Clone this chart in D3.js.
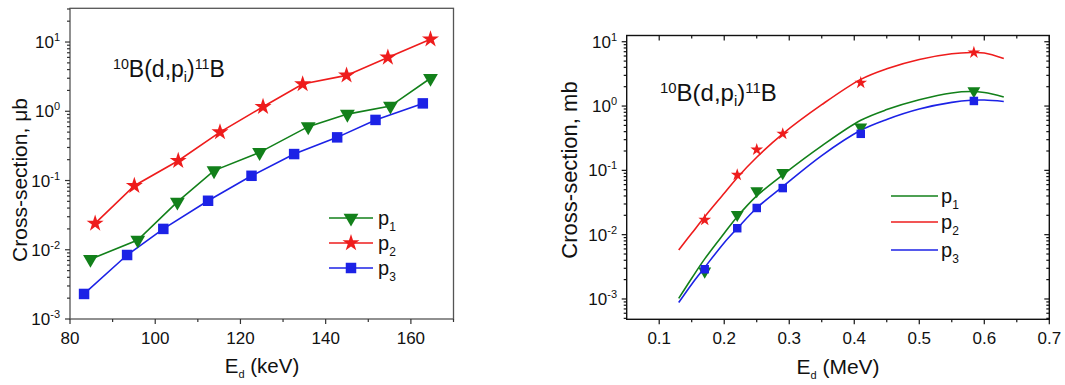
<!DOCTYPE html>
<html>
<head>
<meta charset="utf-8">
<script src="https://cdnjs.cloudflare.com/ajax/libs/d3/7.8.5/d3.min.js"></script>
<style>
  body { margin: 0; background: #fff; }
  text { font-family: "Liberation Sans", Arial, sans-serif; fill: #111; }
</style>
</head>
<body>
<div id="chart"></div>
<script>
// ---- left panel data (keV, micro-barn) ----
var keV_p1_x = [84.8, 95.9, 105.2, 113.8, 124.5, 135.9, 145.1, 155.2, 164.6];
var keV_p1_y = [0.0073, 0.0138, 0.049, 0.139, 0.255, 0.60, 0.91, 1.19, 3.0];
var keV_p2_x = [85.9, 95.1, 105.4, 115.2, 125.3, 134.6, 144.9, 154.6, 164.6];
var keV_p2_y = [0.024, 0.084, 0.193, 0.50, 1.16, 2.47, 3.30, 6.0, 11.0];
var keV_p3_x = [83.3, 93.4, 101.9, 112.4, 122.6, 132.6, 142.7, 151.7, 162.8];
var keV_p3_y = [0.0023, 0.0084, 0.020, 0.051, 0.117, 0.241, 0.42, 0.75, 1.30];
var keV_ticks = [80, 100, 120, 140, 160];

// ---- right panel data (MeV, milli-barn) ----
var MeV_pts_x = [0.17, 0.22, 0.25, 0.29, 0.41, 0.584];
var MeV_p1_y = [0.0027, 0.0205, 0.048, 0.092, 0.47, 1.72];
var MeV_p2_y = [0.017, 0.085, 0.21, 0.37, 2.3, 6.8];
var MeV_p3_y = [0.0029, 0.0126, 0.026, 0.053, 0.37, 1.2];
// fitted curves
var MeV_curve_x = [0.13, 0.15, 0.17, 0.20, 0.22, 0.25, 0.29, 0.35, 0.41, 0.45, 0.50, 0.55, 0.58, 0.60, 0.63];
var MeV_c1_y = [0.00102, 0.0021, 0.0042, 0.0105, 0.019, 0.04, 0.085, 0.24, 0.6, 0.88, 1.25, 1.6, 1.68, 1.62, 1.38];
var MeV_c2_y = [0.0058, 0.0105, 0.019, 0.044, 0.077, 0.16, 0.37, 1.05, 2.6, 3.8, 5.3, 6.5, 6.8, 6.7, 5.5];
var MeV_c3_y = [0.00088, 0.0017, 0.0031, 0.0075, 0.0125, 0.026, 0.056, 0.17, 0.42, 0.62, 0.9, 1.14, 1.23, 1.24, 1.18];
var MeV_ticks = [0.1, 0.2, 0.3, 0.4, 0.5, 0.6, 0.7];

var decades = [-3, -2, -1, 0, 1];
var seriesNames = ["1", "2", "3"];
var colors = { "1": "#12801a", "2": "#ee1c1c", "3": "#1c22e6" };

var svg = d3.select("#chart").append("svg")
  .attr("width", 1065).attr("height", 385);

// minor ticks for a log axis
function logMinors(lo, hi) {
  var out = [];
  for (var k = -4; k <= 2; k++) {
    for (var m = 2; m <= 9; m++) {
      var v = m * Math.pow(10, k);
      if (v >= lo && v <= hi) out.push(v);
    }
  }
  return out;
}

function linMinors(lo, hi, step) {
  var out = [];
  for (var v = lo; v <= hi + 1e-9; v += step) out.push(+v.toFixed(6));
  return out;
}

// tick marks; len > 0 goes down / right
function tickMarks(g, vals, scale, orient, pos, len, color) {
  g.selectAll(null).data(vals).enter().append("line")
    .attr("x1", function (d) { return orient == "x" ? scale(d) : pos; })
    .attr("x2", function (d) { return orient == "x" ? scale(d) : pos + len; })
    .attr("y1", function (d) { return orient == "y" ? scale(d) : pos; })
    .attr("y2", function (d) { return orient == "y" ? scale(d) : pos + len; })
    .attr("stroke", color).attr("stroke-width", 1.2);
}

function powLabels(g, y, xRight) {
  decades.forEach(function (k) {
    var t = g.append("text")
      .attr("x", xRight).attr("y", y(Math.pow(10, k)) + 6)
      .attr("text-anchor", "end")
      .style("font-size", "17px");
    t.append("tspan").text("10");
    t.append("tspan").attr("dy", -7).style("font-size", "11px").text(k);
  });
}

function reactionTitle(g, x, y, size) {
  var s = size * 0.62;
  var t = g.append("text").attr("x", x).attr("y", y).style("font-size", size + "px");
  t.append("tspan").attr("dy", -8).style("font-size", s + "px").text("10");
  t.append("tspan").attr("dy", 8).text("B(d,p");
  t.append("tspan").attr("dy", 5).style("font-size", s + "px").text("i");
  t.append("tspan").attr("dy", -5).text(")");
  t.append("tspan").attr("dy", -8).style("font-size", s + "px").text("11");
  t.append("tspan").attr("dy", 8).text("B");
}

function symbolFor(name, big) {
  if (name == "2") return d3.symbol().type(d3.symbolStar).size(big ? 90 : 50)();
  if (name == "1") return d3.symbol().type(d3.symbolTriangle).size(big ? 95 : 72)();
  return d3.symbol().type(d3.symbolSquare).size(big ? 110 : 72)();
}

function markers(g, xs, ys, x, y, name, big) {
  g.selectAll(null).data(xs).enter().append("path")
    .attr("d", symbolFor(name, big))
    .attr("transform", function (d, i) {
      return "translate(" + x(d) + "," + y(ys[i]) + ")" + (name == "1" ? " rotate(180)" : "");
    })
    .attr("fill", colors[name]);
}

function subLabel(g, x, y, name) {
  var t = g.append("text").attr("x", x).attr("y", y + 7).style("font-size", "20px");
  t.append("tspan").text("p");
  t.append("tspan").attr("dy", 6).style("font-size", "12px").text(name);
}

function axisTitle(g, x, y, size, main, sub, rest, rotate) {
  var t = g.append("text")
    .attr("transform", "translate(" + x + "," + y + ")" + (rotate ? " rotate(-90)" : ""))
    .attr("text-anchor", "middle").style("font-size", size + "px");
  t.append("tspan").text(main);
  if (sub) {
    t.append("tspan").attr("dy", 5).style("font-size", "11px").text(sub);
    t.append("tspan").attr("dy", -5).text(rest);
  }
}

// ================= LEFT PANEL =================
(function () {
  var L = 70, R = 453.5, T = 8.3, B = 319;
  var x = d3.scaleLinear().domain([80, 170]).range([L, R]);
  var y = d3.scaleLog().domain([1e-3, 30.7]).range([B, T]);
  var g = svg.append("g");

  var lineFn = d3.line().x(function (d) { return x(d[0]); }).y(function (d) { return y(d[1]); });
  var sets = { "1": [keV_p1_x, keV_p1_y], "2": [keV_p2_x, keV_p2_y], "3": [keV_p3_x, keV_p3_y] };
  seriesNames.forEach(function (n) {
    var pts = d3.zip(sets[n][0], sets[n][1]);
    g.append("path").attr("d", lineFn(pts))
      .attr("fill", "none").attr("stroke", colors[n]).attr("stroke-width", 1.6);
  });
  ["1", "3", "2"].forEach(function (n) {
    markers(g, sets[n][0], sets[n][1], x, y, n, true);
  });

  g.append("rect").attr("x", L).attr("y", T).attr("width", R - L).attr("height", B - T)
    .attr("fill", "none").attr("stroke", "#555").attr("stroke-width", 1.3);

  tickMarks(g, decades.map(function (k) { return Math.pow(10, k); }), y, "y", L, -5, "#333");
  tickMarks(g, logMinors(1e-3, 30.7), y, "y", L, -3, "#333");
  tickMarks(g, keV_ticks, x, "x", B, 5, "#333");
  tickMarks(g, linMinors(90, 170, 20), x, "x", B, 3, "#333");

  powLabels(g, y, 60);
  keV_ticks.forEach(function (v) {
    g.append("text").attr("x", x(v)).attr("y", B + 25).attr("text-anchor", "middle")
      .style("font-size", "17px").text(v);
  });

  axisTitle(g, 27, 180, 21, "Cross-section, \u03bcb", null, null, true);
  axisTitle(g, 262, 373, 20.5, "E", "d", " (keV)", false);
  reactionTitle(g, 113, 77, 23);

  // legend
  var rows = { "1": 218, "2": 243, "3": 268 };
  seriesNames.forEach(function (n) {
    g.append("line").attr("x1", 329).attr("x2", 373).attr("y1", rows[n]).attr("y2", rows[n])
      .attr("stroke", colors[n]).attr("stroke-width", 1.6);
    g.append("path").attr("d", symbolFor(n, true))
      .attr("transform", "translate(351," + rows[n] + ")" + (n == "1" ? " rotate(180)" : ""))
      .attr("fill", colors[n]);
    subLabel(g, 378, rows[n], n);
  });
})();

// ================= RIGHT PANEL =================
(function () {
  var L = 626.7, R = 1049.3, T = 35.5, B = 319.3;
  var x = d3.scaleLinear().domain([0.05, 0.7]).range([L, R]);
  var y = d3.scaleLog().domain([Math.pow(10, -3.316), Math.pow(10, 1.097)]).range([B, T]);
  var g = svg.append("g");

  var lineFn = d3.line().curve(d3.curveCatmullRom.alpha(0.5))
    .x(function (d) { return x(d[0]); }).y(function (d) { return y(d[1]); });
  var curves = { "1": MeV_c1_y, "2": MeV_c2_y, "3": MeV_c3_y };
  var pts = { "1": MeV_p1_y, "2": MeV_p2_y, "3": MeV_p3_y };
  seriesNames.forEach(function (n) {
    g.append("path").attr("d", lineFn(d3.zip(MeV_curve_x, curves[n])))
      .attr("fill", "none").attr("stroke", colors[n]).attr("stroke-width", 1.6);
  });
  ["1", "3", "2"].forEach(function (n) {
    markers(g, MeV_pts_x, pts[n], x, y, n, false);
  });

  g.append("rect").attr("x", L).attr("y", T).attr("width", R - L).attr("height", B - T)
    .attr("fill", "none").attr("stroke", "#111").attr("stroke-width", 1.4);

  var majY = decades.map(function (k) { return Math.pow(10, k); });
  var minY = logMinors(y.domain()[0], y.domain()[1]);
  tickMarks(g, majY, y, "y", L, -5, "#111");
  tickMarks(g, minY, y, "y", L, -3, "#111");
  tickMarks(g, majY, y, "y", R, -5, "#111");
  tickMarks(g, minY, y, "y", R, -3, "#111");
  var minX = linMinors(0.15, 0.65, 0.1);
  tickMarks(g, MeV_ticks, x, "x", B, 5, "#111");
  tickMarks(g, minX, x, "x", B, 3, "#111");
  tickMarks(g, MeV_ticks, x, "x", T, 5, "#111");
  tickMarks(g, minX, x, "x", T, 3, "#111");

  powLabels(g, y, 617);
  MeV_ticks.forEach(function (v) {
    g.append("text").attr("x", x(v)).attr("y", B + 25).attr("text-anchor", "middle")
      .style("font-size", "17px").text(v);
  });

  axisTitle(g, 577, 170, 22, "Cross-section, mb", null, null, true);
  axisTitle(g, 838, 374, 21, "E", "d", " (MeV)", false);
  reactionTitle(g, 660, 101, 24);

  var rows = { "1": 196, "2": 222, "3": 250 };
  seriesNames.forEach(function (n) {
    g.append("line").attr("x1", 891).attr("x2", 938).attr("y1", rows[n]).attr("y2", rows[n])
      .attr("stroke", colors[n]).attr("stroke-width", 1.6);
    subLabel(g, 941, rows[n], n);
  });
})();
</script>
</body>
</html>
